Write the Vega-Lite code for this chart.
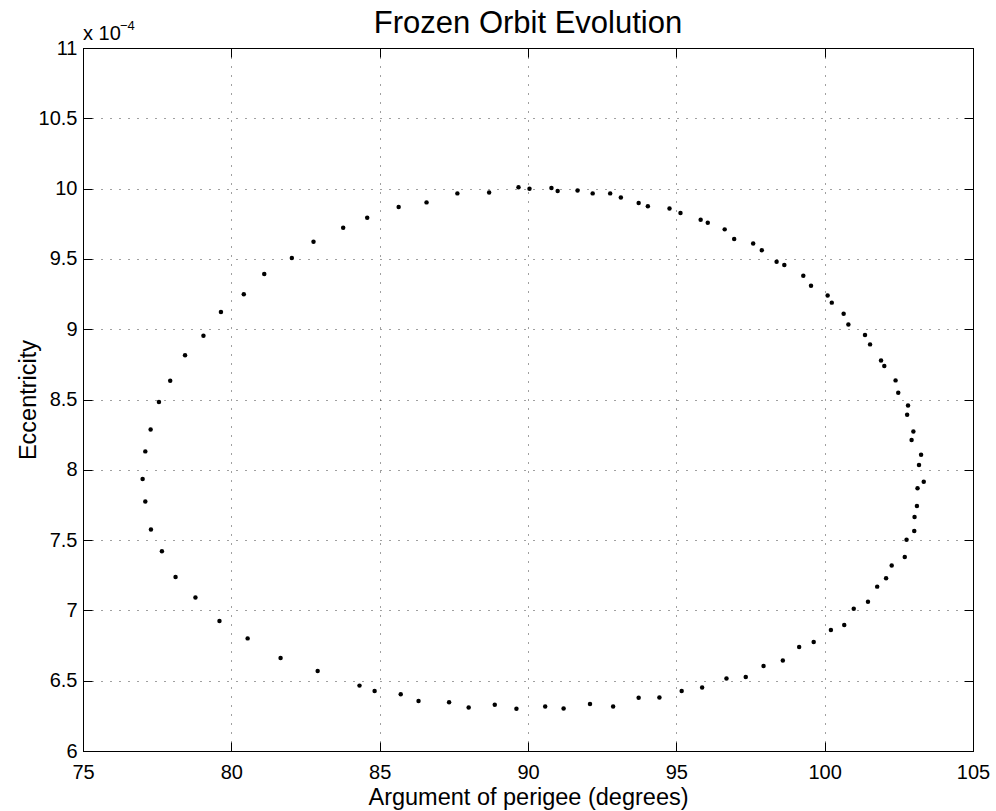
{
  "$schema": "https://vega.github.io/schema/vega-lite/v6.json",
  "width": 890,
  "height": 703,
  "autosize": {"type": "none"},
  "padding": {"left": 83, "top": 48, "right": 23, "bottom": 60},
  "background": "white",
  "title": {
    "text": "Frozen Orbit Evolution",
    "font": "Liberation Sans",
    "fontSize": 31,
    "fontWeight": "normal",
    "color": "black",
    "anchor": "middle",
    "frame": "group",
    "offset": -20
  },
  "config": {
    "font": "Liberation Sans",
    "view": {"stroke": "black", "strokeWidth": 1},
    "axis": {
      "domainColor": "black",
      "tickColor": "black",
      "labelColor": "black",
      "titleColor": "black",
      "labelFont": "Liberation Sans",
      "titleFont": "Liberation Sans",
      "titleFontWeight": "normal",
      "labelFontSize": 20,
      "titleFontSize": 23.5,
      "tickSize": -9,
      "labelFlush": false,
      "labelOverlap": false,
      "gridColor": "black",
      "gridDash": [1, 8],
      "gridOpacity": 0.75,
      "gridWidth": 1
    }
  },
  "datasets": {
    "orbit": [
      {"perigee": 82.04, "ecc": 9.506e-4}, {"perigee": 82.77, "ecc": 9.622e-4}, {"perigee": 83.77, "ecc": 9.722e-4},
      {"perigee": 84.58, "ecc": 9.793e-4}, {"perigee": 85.64, "ecc": 9.869e-4}, {"perigee": 86.58, "ecc": 9.902e-4},
      {"perigee": 87.62, "ecc": 9.966e-4}, {"perigee": 88.69, "ecc": 9.973e-4}, {"perigee": 89.68, "ecc": 10.009e-4},
      {"perigee": 90.05, "ecc": 9.999e-4}, {"perigee": 90.79, "ecc": 10.004e-4}, {"perigee": 91.00, "ecc": 9.983e-4},
      {"perigee": 91.67, "ecc": 9.987e-4}, {"perigee": 92.18, "ecc": 9.966e-4}, {"perigee": 92.77, "ecc": 9.966e-4},
      {"perigee": 93.13, "ecc": 9.937e-4}, {"perigee": 93.73, "ecc": 9.898e-4}, {"perigee": 94.04, "ecc": 9.874e-4},
      {"perigee": 94.77, "ecc": 9.859e-4}, {"perigee": 95.14, "ecc": 9.826e-4}, {"perigee": 95.82, "ecc": 9.779e-4},
      {"perigee": 96.06, "ecc": 9.757e-4}, {"perigee": 96.63, "ecc": 9.710e-4}, {"perigee": 96.95, "ecc": 9.642e-4},
      {"perigee": 97.59, "ecc": 9.610e-4}, {"perigee": 97.88, "ecc": 9.561e-4}, {"perigee": 98.38, "ecc": 9.480e-4},
      {"perigee": 98.64, "ecc": 9.457e-4}, {"perigee": 99.28, "ecc": 9.380e-4}, {"perigee": 99.54, "ecc": 9.309e-4},
      {"perigee": 100.10, "ecc": 9.240e-4}, {"perigee": 100.24, "ecc": 9.189e-4}, {"perigee": 100.64, "ecc": 9.110e-4},
      {"perigee": 100.80, "ecc": 9.034e-4}, {"perigee": 101.36, "ecc": 8.959e-4}, {"perigee": 101.53, "ecc": 8.892e-4},
      {"perigee": 101.90, "ecc": 8.778e-4}, {"perigee": 102.01, "ecc": 8.738e-4}, {"perigee": 102.39, "ecc": 8.636e-4},
      {"perigee": 102.48, "ecc": 8.548e-4}, {"perigee": 102.81, "ecc": 8.458e-4}, {"perigee": 102.78, "ecc": 8.392e-4},
      {"perigee": 102.99, "ecc": 8.273e-4}, {"perigee": 102.93, "ecc": 8.212e-4}, {"perigee": 103.25, "ecc": 8.107e-4},
      {"perigee": 103.18, "ecc": 8.034e-4}, {"perigee": 103.34, "ecc": 7.915e-4}, {"perigee": 103.13, "ecc": 7.868e-4},
      {"perigee": 103.11, "ecc": 7.743e-4}, {"perigee": 103.03, "ecc": 7.664e-4}, {"perigee": 103.02, "ecc": 7.565e-4},
      {"perigee": 102.76, "ecc": 7.503e-4}, {"perigee": 102.70, "ecc": 7.380e-4}, {"perigee": 102.26, "ecc": 7.320e-4},
      {"perigee": 102.07, "ecc": 7.228e-4}, {"perigee": 101.77, "ecc": 7.169e-4}, {"perigee": 101.46, "ecc": 7.062e-4},
      {"perigee": 100.98, "ecc": 7.012e-4}, {"perigee": 100.66, "ecc": 6.896e-4}, {"perigee": 100.21, "ecc": 6.861e-4},
      {"perigee": 99.63, "ecc": 6.775e-4}, {"perigee": 99.14, "ecc": 6.740e-4}, {"perigee": 98.59, "ecc": 6.644e-4},
      {"perigee": 97.94, "ecc": 6.605e-4}, {"perigee": 97.34, "ecc": 6.526e-4}, {"perigee": 96.69, "ecc": 6.516e-4},
      {"perigee": 95.87, "ecc": 6.452e-4}, {"perigee": 95.18, "ecc": 6.427e-4}, {"perigee": 94.43, "ecc": 6.381e-4},
      {"perigee": 93.73, "ecc": 6.379e-4}, {"perigee": 92.87, "ecc": 6.317e-4}, {"perigee": 92.09, "ecc": 6.334e-4},
      {"perigee": 91.20, "ecc": 6.303e-4}, {"perigee": 90.58, "ecc": 6.317e-4}, {"perigee": 89.61, "ecc": 6.301e-4},
      {"perigee": 88.88, "ecc": 6.329e-4}, {"perigee": 88.00, "ecc": 6.310e-4}, {"perigee": 87.34, "ecc": 6.346e-4},
      {"perigee": 86.31, "ecc": 6.356e-4}, {"perigee": 85.71, "ecc": 6.403e-4}, {"perigee": 84.83, "ecc": 6.427e-4},
      {"perigee": 84.32, "ecc": 6.465e-4}, {"perigee": 82.91, "ecc": 6.569e-4}, {"perigee": 81.66, "ecc": 6.661e-4},
      {"perigee": 80.55, "ecc": 6.801e-4}, {"perigee": 79.60, "ecc": 6.925e-4}, {"perigee": 78.79, "ecc": 7.092e-4},
      {"perigee": 78.12, "ecc": 7.238e-4}, {"perigee": 77.66, "ecc": 7.420e-4}, {"perigee": 77.29, "ecc": 7.576e-4},
      {"perigee": 77.10, "ecc": 7.775e-4}, {"perigee": 77.01, "ecc": 7.935e-4}, {"perigee": 77.10, "ecc": 8.131e-4},
      {"perigee": 77.28, "ecc": 8.287e-4}, {"perigee": 77.56, "ecc": 8.482e-4}, {"perigee": 77.94, "ecc": 8.634e-4},
      {"perigee": 78.44, "ecc": 8.814e-4}, {"perigee": 79.06, "ecc": 8.954e-4}, {"perigee": 79.65, "ecc": 9.122e-4},
      {"perigee": 80.42, "ecc": 9.248e-4}, {"perigee": 81.11, "ecc": 9.393e-4}
    ],
    "multiplier": [
      {"perigee": 75, "ecc": 0.0011, "base": "x 10", "exponent": "\u22124"}
    ]
  },
  "data": {"name": "orbit"},
  "layer": [
    {
      "mark": {"type": "point", "filled": true, "size": 20, "color": "black", "opacity": 1, "strokeWidth": 0},
      "encoding": {
        "x": {
          "field": "perigee", "type": "quantitative",
          "scale": {"domain": [75, 105], "nice": false, "zero": false},
          "axis": {
            "orient": "bottom",
            "values": [75, 80, 85, 90, 95, 100, 105],
            "grid": true,
            "title": "Argument of perigee (degrees)",
            "labelPadding": 20,
            "titlePadding": 3
          }
        },
        "y": {
          "field": "ecc", "type": "quantitative",
          "scale": {"domain": [0.0006, 0.0011], "nice": false, "zero": false},
          "axis": {
            "orient": "left",
            "values": [0.0006, 0.00065, 0.0007, 0.00075, 0.0008, 0.00085, 0.0009, 0.00095, 0.001, 0.00105, 0.0011],
            "labelExpr": "toString(round(datum.value * 100000) / 10)",
            "grid": true,
            "title": "Eccentricity",
            "labelPadding": 15,
            "titlePadding": -2
          }
        }
      }
    },
    {
      "mark": {"type": "point", "opacity": 0},
      "encoding": {
        "x": {
          "field": "perigee", "type": "quantitative",
          "axis": {"orient": "top", "values": [75, 80, 85, 90, 95, 100, 105], "labels": false, "title": null, "grid": false}
        },
        "y": {
          "field": "ecc", "type": "quantitative",
          "axis": {"orient": "right", "values": [0.0006, 0.00065, 0.0007, 0.00075, 0.0008, 0.00085, 0.0009, 0.00095, 0.001, 0.00105, 0.0011], "labels": false, "title": null, "grid": false}
        }
      }
    },
    {
      "data": {"name": "multiplier"},
      "mark": {"type": "text", "font": "Liberation Sans", "fontSize": 20, "color": "black", "align": "left", "baseline": "alphabetic", "dy": -8},
      "encoding": {
        "x": {"field": "perigee", "type": "quantitative", "axis": null},
        "y": {"field": "ecc", "type": "quantitative", "axis": null},
        "text": {"field": "base"}
      }
    },
    {
      "data": {"name": "multiplier"},
      "mark": {"type": "text", "font": "Liberation Sans", "fontSize": 13, "color": "black", "align": "left", "baseline": "alphabetic", "dx": 37, "dy": -18},
      "encoding": {
        "x": {"field": "perigee", "type": "quantitative", "axis": null},
        "y": {"field": "ecc", "type": "quantitative", "axis": null},
        "text": {"field": "exponent"}
      }
    }
  ],
  "resolve": {"axis": {"x": "independent", "y": "independent"}}
}
